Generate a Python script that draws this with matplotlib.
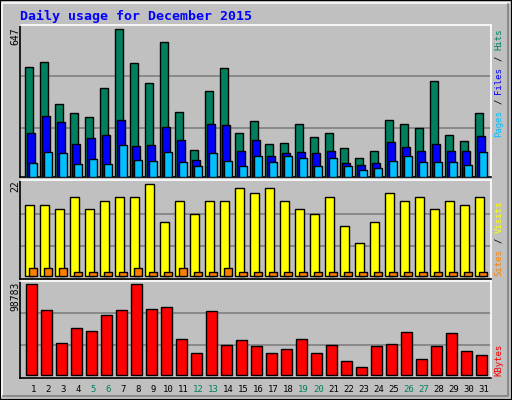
import matplotlib
matplotlib.use("Agg")
import matplotlib.pyplot as plt
from matplotlib.patches import Rectangle
from matplotlib.lines import Line2D
import numpy as np

days = list(range(1, 32))
weekend = [5, 6, 12, 13, 19, 20, 26, 27]
hits = [480, 502, 318, 278, 261, 388, 647, 498, 410, 590, 283, 116, 375, 476, 190, 243,
        142, 146, 230, 173, 190, 124, 81, 111, 247, 230, 212, 419, 182, 155, 278]
files = [190, 265, 239, 142, 168, 182, 247, 133, 138, 217, 160, 72, 230, 225, 111, 160,
         89, 102, 107, 102, 111, 59, 50, 59, 151, 129, 111, 142, 111, 111, 177]
pages = [59, 107, 102, 54, 76, 54, 138, 72, 67, 107, 63, 45, 102, 67, 45, 89,
         63, 89, 81, 45, 81, 45, 28, 37, 67, 89, 63, 63, 63, 50, 107]
visits = [17, 17, 16, 19, 16, 18, 19, 19, 22, 13, 18, 15, 18, 18, 21, 20,
          21, 18, 16, 15, 19, 12, 8, 13, 20, 18, 19, 16, 18, 17, 19]
sites = [2, 2, 2, 1, 1, 1, 1, 2, 1, 1, 2, 1, 1, 2, 1, 1,
         1, 1, 1, 1, 1, 1, 1, 1, 1, 1, 1, 1, 1, 1, 1]
kbytes = [98783, 70551, 34735, 51016, 47760, 65130, 70551, 98783, 71640, 73812, 39077,
          23881, 69472, 32565, 37992, 31480, 23881, 28223, 39077, 23881, 32565, 15197,
          8684, 31480, 33651, 46677, 17368, 31480, 45592, 26052, 21710]

W, H = 512, 400
BG = "#C0C0C0"
fig = plt.figure(figsize=(W / 100, H / 100), dpi=100, facecolor=BG)
mono = "DejaVu Sans Mono"

def fx(px): return px / W
def fy(py): return 1 - py / H

fig.patches.append(Rectangle((0, 0), 1, 1, transform=fig.transFigure, fill=False, ec="black", lw=1.5))
fig.lines.append(Line2D([fx(2), fx(2), fx(509)], [fy(396), fy(3), fy(3)], transform=fig.transFigure, color="white", lw=1.2))
fig.lines.append(Line2D([fx(3), fx(508), fx(508)], [fy(396), fy(396), fy(4)], transform=fig.transFigure, color="#808080", lw=1.2))

x = np.array(days, dtype=float)
xl = (0.4, 31.8)

def mkax(top, bot, ymax, ylo, yhi):
    ax = fig.add_axes([fx(20), fy(bot), fx(491) - fx(20), fy(top) - fy(bot)])
    ax.set_facecolor(BG)
    ax.set_xlim(*xl)
    ax.set_ylim(ylo, yhi)
    for f in (0.33, 0.68):
        ax.axhline(ymax * f, color="#808080", lw=1.2, zorder=0)
    ax.set_xticks([]); ax.set_yticks([])
    for s in ("left", "bottom"):
        ax.spines[s].set_color("black")
    for s in ("top", "right"):
        ax.spines[s].set_color("white")
    for s in ax.spines.values():
        s.set_linewidth(1.2)
    return ax

kw = dict(edgecolor="black", linewidth=1, zorder=3)
ax1 = mkax(25, 177, 647, -0.3 / 147.4 * 647, 151.7 / 147.4 * 647)
ax1.bar(x, hits, width=0.53, color="#00805F", **kw)
ax1.bar(x + 0.13, files, width=0.53, color="#0000FF", **kw)
ax1.bar(x + 0.27, pages, width=0.53, color="#00C0FF", **kw)

ax2 = mkax(180, 279, 22, -2.7 / 92 * 22, 96.3 / 92 * 22)
ax2.bar(x + 0.03, visits, width=0.6, color="#FFFF00", **kw)
ax2.bar(x + 0.27, sites, width=0.53, color="#FF8000", **kw)

ax3 = mkax(281, 378, 98783, -2.7 / 91 * 98783, 94.3 / 91 * 98783)
ax3.bar(x + 0.17, kbytes, width=0.73, color="#FF0000", **kw)

fig.text(fx(20), fy(16), "Daily usage for December 2015", color="#0000FF", fontsize=9.5,
         fontweight="bold", family=mono, va="center", ha="left")

for lab, ytop in (("647", 27), ("22", 180), ("98783", 282)):
    fig.text(fx(15), fy(ytop), lab, rotation=90, fontsize=7, family=mono, ha="center", va="top")

RFS = 6.5
CW = 0.602 * RFS * 100 / 72

def right_label(pieces, ybottom):
    y = ybottom
    for txt, col in pieces:
        fig.text(fx(499), fy(y), txt, rotation=90, rotation_mode="anchor", fontsize=RFS,
                 family=mono, color=col, ha="left", va="center")
        y -= len(txt) * CW

right_label([("Pages", "#00C0FF"), ("/", "#000000"), ("Files", "#0000FF"),
             ("/", "#000000"), ("Hits", "#00805F")][0:1], 137)
right_label([("/", "#000000")], 137 - 6 * CW)
right_label([("Files", "#0000FF")], 137 - 8 * CW)
right_label([("/", "#000000")], 137 - 14 * CW)
right_label([("Hits", "#00805F")], 137 - 16 * CW)
right_label([("Sites", "#FF8000")], 276)
right_label([("/", "#000000")], 276 - 6 * CW)
right_label([("Visits", "#FFFF00")], 276 - 8 * CW)
right_label([("KBytes", "#FF0000")], 376)

for d in days:
    fig.text(fx(20) + (fx(491) - fx(20)) * ((d + 0.3 - xl[0]) / (xl[1] - xl[0])), fy(389), str(d),
             fontsize=6.5, family=mono, ha="center", va="center",
             color="#00805F" if d in weekend else "black")

fig.savefig("out.png", dpi=100, facecolor=BG)
